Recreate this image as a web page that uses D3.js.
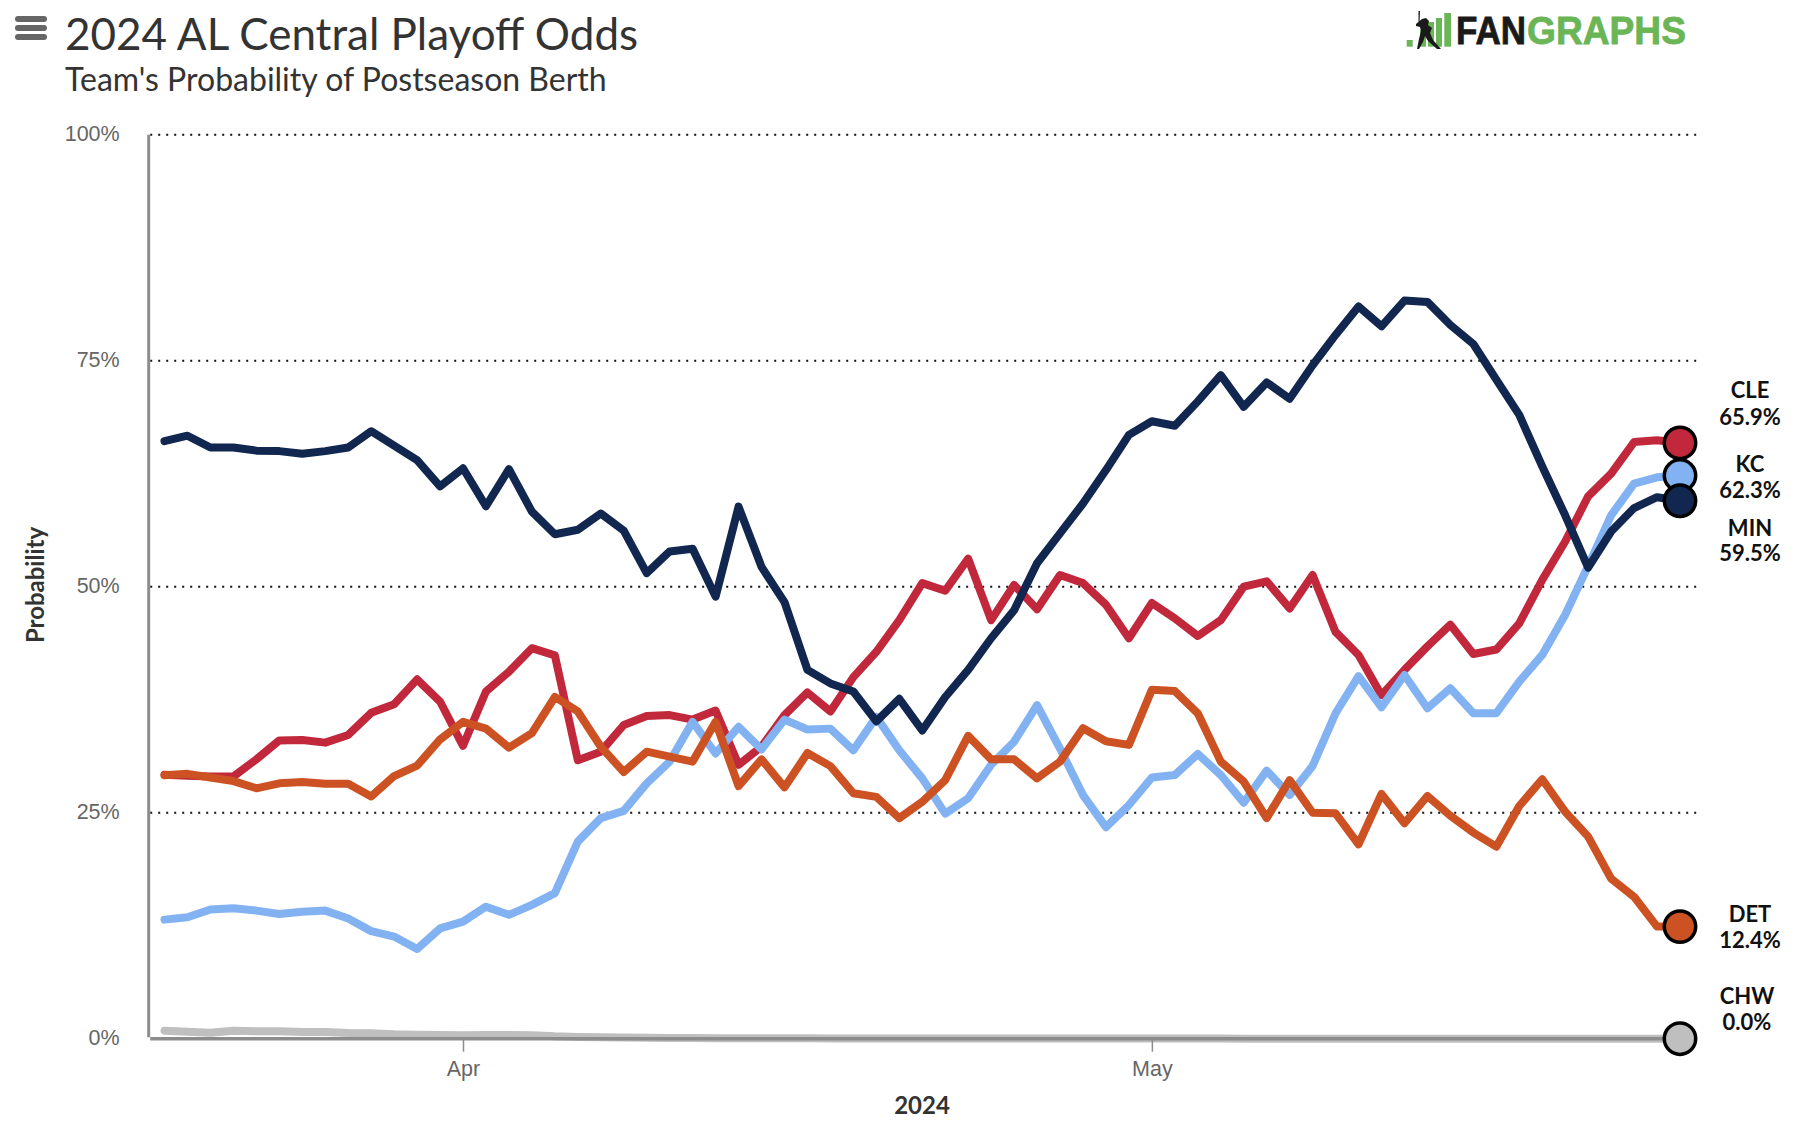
<!DOCTYPE html>
<html lang="en">
<head>
    <meta charset="utf-8">
    <title>2024 AL Central Playoff Odds</title>
    <script src="https://d3js.org/d3.v7.min.js"></script>
    <style>
        body { margin: 0; background: white; }
        svg { display: block; font-family: Lato, sans-serif; }
        .tick text { font-size: 21.5px; fill: #666; }
        .tick line { stroke: #8c8c8c; }
        .axis-title { font-weight: bold; fill: #333; text-anchor: middle; }
        .end-label { font-size: 22px; font-weight: bold; fill: #111; text-anchor: middle; }
    </style>
</head>
<body>
    <div id="chart"></div>
    <script>
        const teams = ["CHW", "CLE", "KC", "MIN", "DET"];
        const colors = ["#bfbfbf", "#c1283c", "#82b2f2", "#12274f", "#cd5223"];
        const endValues = ["0.0%", "65.9%", "62.3%", "59.5%", "12.4%"];
        const yTicks = [0, 25, 50, 75, 100];
        const monthTicks = ["2024-04-01", "2024-05-01"];
        const firstDay = "2024-03-19";
        const lastDay = "2024-05-24";

        const chw = [0.89,0.78,0.67,0.89,0.82,0.82,0.74,0.74,0.63,0.6,0.48,0.45,0.41,0.38,0.41,0.41,0.38,0.26,0.2,0.15,
            0.12,0.1,0.08,0.07,0.06,0.05,0.05,0.04,0.04,0.03,0.03,0.03,0.02,0.02,0.02,0.02,0.02,0.01,0.01,0.01,
            0.01,0.01,0.01,0.01,0.01,0.01,0.01,0,0,0,0,0,0,0,0,0,0,0,0,0,0,0,0,0,0,0,0];
        const cle = [29.2,29.1,29.0,29.0,30.9,33.0,33.05,32.75,33.6,36.05,37.0,39.75,37.3,32.4,38.4,40.6,43.2,42.4,30.8,31.75,
            34.7,35.7,35.8,35.3,36.3,30.3,32.3,35.8,38.3,36.2,40.0,42.8,46.3,50.4,49.55,53.1,46.3,50.2,47.5,51.3,
            50.4,48.0,44.3,48.2,46.5,44.55,46.3,50.0,50.6,47.6,51.3,45.0,42.45,38.0,40.8,43.4,45.8,42.55,43.05,45.95,
            50.75,55.0,60.0,62.5,66.0,66.2,65.9];
        const kc = [13.17,13.43,14.3,14.42,14.17,13.8,14.05,14.17,13.3,11.9,11.3,9.93,12.2,12.95,14.6,13.7,14.8,16.1,21.8,24.4,
            25.2,28.25,30.65,35.05,31.55,34.5,32.0,35.3,34.2,34.3,31.9,35.6,31.9,28.8,24.9,26.6,30.3,32.85,36.9,32.1,
            26.95,23.4,25.85,28.9,29.17,31.5,29.17,26.1,29.65,26.96,30.17,36.0,40.1,36.66,40.23,36.55,38.76,36.0,36.0,39.5,
            42.45,46.9,52.3,57.9,61.4,62.1,62.3];
        const min = [66.1,66.7,65.4,65.4,65.05,65.0,64.7,65.0,65.4,67.2,65.6,64.0,61.1,63.1,58.9,63.0,58.3,55.8,56.3,58.1,
            56.2,51.5,53.9,54.2,48.9,58.85,52.2,48.3,40.8,39.3,38.4,35.1,37.6,34.1,37.8,40.8,44.3,47.4,52.6,55.9,
            59.2,62.9,66.8,68.3,67.8,70.5,73.4,69.9,72.6,70.8,74.5,77.85,81.0,78.8,81.65,81.5,78.95,76.85,72.9,69.0,
            63.3,57.9,52.1,56.1,58.7,59.9,59.5];
        const det = [29.15,29.3,28.9,28.5,27.7,28.25,28.4,28.2,28.2,26.8,29.05,30.2,33.1,35.05,34.3,32.2,33.8,37.8,36.2,32.3,
            29.5,31.75,31.2,30.65,35.05,27.95,30.9,27.8,31.6,30.15,27.15,26.75,24.4,26.2,28.6,33.5,30.9,30.9,28.8,30.65,
            34.35,32.9,32.5,38.6,38.46,36.0,30.65,28.44,24.4,28.6,25.0,24.93,21.5,27.07,23.83,26.85,24.67,22.8,21.24,25.74,
            28.7,25.1,22.35,17.7,15.7,12.4,12.4];
        const seriesValues = [chw, cle, kc, min, det];

        const parseDay = d3.utcParse("%Y-%m-%d");
        const days = d3.utcDay.range(parseDay(firstDay), d3.utcDay.offset(parseDay(lastDay), 1));

        const width = 1794;
        const height = 1126;
        const left = 148.7;

        const svg = d3.select("#chart")
            .append("svg")
            .attr("width", width)
            .attr("height", height);

        const x = d3.scaleUtc()
            .domain([days[0], days[days.length - 1]])
            .range([164.5, 1680]);
        const y = d3.scaleLinear()
            .domain([0, 100])
            .range([1038.7, 134.7]);

        // menu button
        svg.append("g").selectAll("rect")
            .data([0, 1, 2])
            .enter()
            .append("rect")
                .attr("x", 15)
                .attr("y", d => 16 + d * 9)
                .attr("width", 32)
                .attr("height", 6)
                .attr("rx", 3)
                .attr("fill", "#666");

        // titles
        svg.append("text")
            .attr("x", 65)
            .attr("y", 50)
            .attr("font-size", 44)
            .attr("fill", "#333")
            .text("2024 AL Central Playoff Odds");
        svg.append("text")
            .attr("x", 65)
            .attr("y", 91)
            .attr("font-size", 32)
            .attr("fill", "#333")
            .text("Team's Probability of Postseason Berth");

        // logo
        const logo = svg.append("g");
        logo.selectAll("rect")
            .data([[1406.7, 40, 6], [1420, 30, 6], [1428, 22, 6], [1436, 18, 6], [1444.3, 13, 6.7]])
            .enter()
            .append("rect")
                .attr("x", d => d[0])
                .attr("y", d => d[1])
                .attr("width", d => d[2])
                .attr("height", d => 46.7 - d[1])
                .attr("fill", "#6ab556");
        logo.append("path")
            .attr("fill", "#1a1a1a")
            .attr("d", "M1418.5 11L1420 11L1419.5 22L1418.5 22ZM1416 24L1422 19L1426 18L1429 21L1428 25L1432 28L1430 33L1433 40L1441 49L1437 49L1428 41L1425 36L1423 42L1419 49L1417 49L1419 39L1421 31L1420 27L1416 26Z");
        logo.append("text")
            .attr("x", 1456)
            .attr("y", 44)
            .attr("font-family", "Liberation Sans")
            .attr("font-weight", "bold")
            .attr("font-size", 38.5)
            .attr("textLength", 70)
            .attr("lengthAdjust", "spacingAndGlyphs")
            .attr("fill", "#1a1a1a")
            .attr("stroke", "#1a1a1a")
            .attr("stroke-width", 0.8)
            .text("FAN");
        logo.append("text")
            .attr("x", 1527)
            .attr("y", 44)
            .attr("font-family", "Liberation Sans")
            .attr("font-weight", "bold")
            .attr("font-size", 38.5)
            .attr("textLength", 159)
            .attr("lengthAdjust", "spacingAndGlyphs")
            .attr("fill", "#6ab556")
            .attr("stroke", "#6ab556")
            .attr("stroke-width", 0.8)
            .text("GRAPHS");

        // grid lines
        svg.append("g")
            .selectAll("line")
            .data(yTicks.filter(d => d > 0))
            .enter()
            .append("line")
                .attr("x1", left + 1.5)
                .attr("x2", 1697)
                .attr("y1", d => y(d))
                .attr("y2", d => y(d))
                .attr("stroke", "#111")
                .attr("stroke-width", 2)
                .attr("stroke-dasharray", "2,6");

        // team lines
        const line = d3.line()
            .x((d, i) => x(days[i]))
            .y(d => y(d));

        const lineOrder = d3.range(teams.length);
        svg.append("g")
            .selectAll("path")
            .data(lineOrder)
            .enter()
            .append("path")
                .attr("d", t => line(seriesValues[t]))
                .attr("fill", "none")
                .attr("stroke", t => colors[t])
                .attr("stroke-width", 8)
                .attr("stroke-linejoin", "round")
                .attr("stroke-linecap", "round");

        // axes go over the gray CHW line
        const yAxis = d3.axisLeft(y)
            .tickValues(yTicks)
            .tickSize(0)
            .tickPadding(29)
            .tickFormat(d => d + "%");
        const yGroup = svg.append("g")
            .attr("transform", `translate(${left}, -1)`)
            .call(yAxis);
        yGroup.select(".domain")
            .attr("stroke", "#8c8c8c")
            .attr("stroke-width", 3)
            .attr("d", `M0,${y(100) + 1}V${y(0) - 0.5}`);

        const xAxis = d3.axisBottom(x)
            .tickValues(monthTicks.map(parseDay))
            .tickSize(13)
            .tickSizeOuter(0)
            .tickPadding(9)
            .tickFormat(d3.utcFormat("%b"));
        const xGroup = svg.append("g")
            .attr("transform", `translate(0, ${y(0)})`)
            .call(xAxis);
        xGroup.select(".domain")
            .attr("stroke", "#8c8c8c")
            .attr("stroke-width", 3.4)
            .attr("d", `M${left + 1.5},0H${x(days[days.length - 1])}`);
        xGroup.selectAll(".tick line")
            .attr("stroke-width", 1.5);

        svg.append("text")
            .attr("class", "axis-title")
            .attr("font-size", 24)
            .attr("transform", "translate(44, 585) rotate(-90)")
            .text("Probability");
        svg.append("text")
            .attr("class", "axis-title")
            .attr("font-size", 24)
            .attr("x", 922)
            .attr("y", 1114)
            .text("2024");

        // end markers, CLE then KC then MIN so MIN sits on top
        svg.append("g")
            .selectAll("circle")
            .data(lineOrder)
            .enter()
            .append("circle")
                .attr("cx", x(days[days.length - 1]))
                .attr("cy", t => y(seriesValues[t][days.length - 1]))
                .attr("r", 15.7)
                .attr("fill", t => colors[t])
                .attr("stroke", "#000")
                .attr("stroke-width", 3.5);

        // end labels sit a fixed distance from the marker
        const labelShift = { CHW: [-35, -9], CLE: [-45, -18], KC: [-4, 22], MIN: [35, 60], DET: [-5, 21] };
        const labelX = { CHW: 1747, CLE: 1750, KC: 1750, MIN: 1750, DET: 1750 };
        const labels = svg.append("g");
        lineOrder.forEach(t => {
            const team = teams[t];
            const base = y(seriesValues[t][days.length - 1]);
            labels.append("text")
                .attr("class", "end-label")
                .attr("x", labelX[team])
                .attr("y", base + labelShift[team][0])
                .text(team);
            labels.append("text")
                .attr("class", "end-label")
                .attr("x", labelX[team])
                .attr("y", base + labelShift[team][1])
                .text(endValues[t]);
        });
    </script>
</body>
</html>
